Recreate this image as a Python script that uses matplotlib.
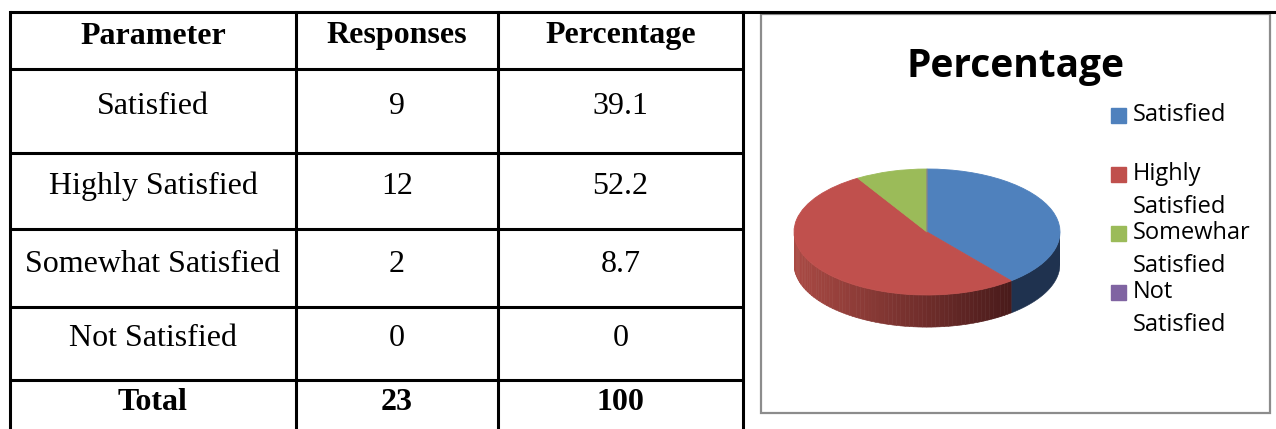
import numpy as np
import matplotlib.pyplot as plt

# table data
parameters = ["Satisfied", "Highly Satisfied", "Somewhat Satisfied", "Not Satisfied"]
responses = [9, 12, 2, 0]
percentage = [39.1, 52.2, 8.7, 0]
total_responses = 23
total_percentage = 100

# legend labels as shown in the chart (typo kept)
legend_labels = ["Satisfied", "Highly\nSatisfied", "Somewhar\nSatisfied", "Not\nSatisfied"]
colors = ["#4F81BD", "#C0504D", "#9BBB59", "#8064A2"]

W, H = 1276, 429
fig = plt.figure(figsize=(W / 100, H / 100), dpi=100)

# background axes in pixel units
bg = fig.add_axes([0, 0, 1, 1])
bg.set_xlim(0, W)
bg.set_ylim(H, 0)
bg.axis("off")

# ---- table ----
col_x = [10, 296, 498, 743]
row_y = [12, 69, 153, 229, 307, 380, H + 5]
text_y = [36, 106, 186, 264, 339, 403]
serif = "Liberation Serif"
fs = 23

for y in row_y[:-1]:
    bg.plot([col_x[0], col_x[-1]], [y, y], color="black", lw=2.2, solid_capstyle="butt")
bg.plot([col_x[-1], W], [row_y[0], row_y[0]], color="black", lw=2.2)
for x in col_x:
    bg.plot([x, x], [row_y[0], row_y[-1]], color="black", lw=2.2)

centers = [(col_x[i] + col_x[i + 1]) / 2 for i in range(3)]
header = ["Parameter", "Responses", "Percentage"]
for c, t in zip(centers, header):
    bg.text(c, text_y[0], t, ha="center", va="center", fontsize=fs,
            family=serif, weight="bold")
for i, p in enumerate(parameters):
    row = [p, str(responses[i]), "{:g}".format(percentage[i])]
    for c, t in zip(centers, row):
        bg.text(c, text_y[i + 1], t, ha="center", va="center", fontsize=fs, family=serif)
for c, t in zip(centers, ["Total", str(total_responses), str(total_percentage)]):
    bg.text(c, text_y[-1], t, ha="center", va="center", fontsize=fs,
            family=serif, weight="bold")

# ---- chart box ----
bg.add_patch(plt.Rectangle((761, 14), 1270 - 761, 413 - 14, fill=False,
                           edgecolor="#8c8c8c", lw=1.6))
bg.text(1015, 67, "Percentage", ha="center", va="center", fontsize=28,
        family="Open Sans", weight="bold")

# legend, drawn by hand to keep the uneven spacing
leg_y = [115, 174, 233, 292]
for lab, col, y in zip(legend_labels, colors, leg_y):
    bg.add_patch(plt.Rectangle((1111, y - 7.5), 15, 15, color=col))
    lines = lab.split("\n")
    bg.text(1133, y, lines[0], ha="left", va="center", fontsize=17, family="Open Sans")
    if len(lines) > 1:
        bg.text(1133, y + 33, lines[1], ha="left", va="center", fontsize=17,
                family="Open Sans")

# ---- 3d-looking pie ----
cx, cy, rx, ry = 927, 232, 133, 63
depth = 0.51         # side height in pie units
ylo = -1.6
px_top, px_bot = cy - ry, cy - ylo * ry
ax = fig.add_axes([(cx - rx) / W, (H - px_bot) / H, 2 * rx / W, (px_bot - px_top) / H])
wedges, _ = ax.pie(percentage, colors=colors, startangle=90, counterclock=False,
                   wedgeprops=dict(linewidth=0.6))
for w in wedges:
    w.set_zorder(3)
    w.set_edgecolor(w.get_facecolor())
ax.set_aspect("auto")
ax.set_xlim(-1, 1)
ax.set_ylim(ylo, 1)
ax.axis("off")

light = np.array([170, 74, 68]) / 255
dark = np.array([72, 26, 26]) / 255
side_blue = "#1F324F"


def side(a0, a1, color):
    t = np.radians(np.linspace(a0, a1, 40))
    xs = np.concatenate([np.cos(t), np.cos(t[::-1])])
    ys = np.concatenate([np.sin(t), np.sin(t[::-1]) - depth])
    ax.fill(xs, ys, color=color, lw=0.4, zorder=2)


for w, col in zip(wedges, colors):
    for k in (-1, 0, 1):
        a0 = max(w.theta1 + 360 * k, -180)
        a1 = min(w.theta2 + 360 * k, 0)
        if a1 <= a0:
            continue
        if col == "#C0504D":
            edges = np.linspace(a0, a1, 70)
            for s0, s1 in zip(edges[:-1], edges[1:]):
                x = np.cos(np.radians((s0 + s1) / 2))
                f = (x + 1) / 1.65
                side(s0, s1, light + (dark - light) * min(max(f, 0), 1))
        else:
            side(a0, a1, side_blue)

fig.savefig("out.png", dpi=100)
